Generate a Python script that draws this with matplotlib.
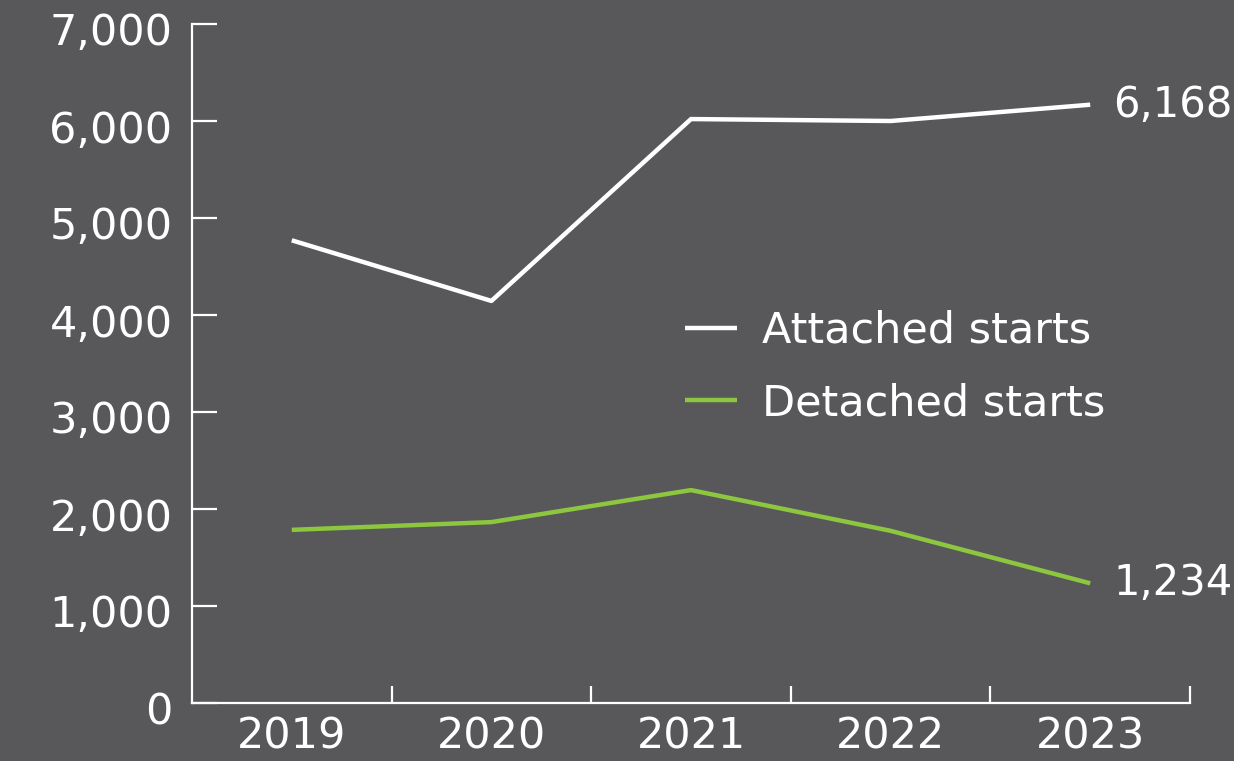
import matplotlib
matplotlib.use('Agg')
import matplotlib.pyplot as plt
from matplotlib.ticker import FuncFormatter, FixedLocator
from matplotlib.transforms import ScaledTranslation

# Housing starts by year
years = ['2019', '2020', '2021', '2022', '2023']
attached = [4770, 4145, 6020, 6000, 6168]
detached = [1785, 1865, 2195, 1775, 1234]

bg = '#58585a'
white = '#ffffff'
green = '#8dc63f'

plt.rcParams['font.family'] = ['DejaVu Sans']
fs = 31

fig = plt.figure(figsize=(12.34, 7.61), dpi=100, facecolor=bg)
ax = fig.add_axes([192/1234, 58/761, 998/1234, 679/761])
ax.set_facecolor(bg)

x = list(range(len(years)))
ax.plot(x, attached, color=white, lw=3.2, label='Attached starts', solid_capstyle='butt')
ax.plot(x, detached, color=green, lw=3.2, label='Detached starts', solid_capstyle='butt')

# value labels at the last point
ax.annotate(f'{attached[-1]:,}', xy=(x[-1], attached[-1]), xytext=(23, 0),
            textcoords='offset pixels', ha='left', va='center', color=white, fontsize=30)
ax.annotate(f'{detached[-1]:,}', xy=(x[-1], detached[-1]), xytext=(23, 0),
            textcoords='offset pixels', ha='left', va='center', color=white, fontsize=30)

ax.set_xlim(-0.5, 4.5)
ax.set_ylim(0, 7000)

for side in ['top', 'right']:
    ax.spines[side].set_visible(False)
for side in ['left', 'bottom']:
    ax.spines[side].set_color(white)
    ax.spines[side].set_linewidth(1.6)

ax.yaxis.set_major_locator(FixedLocator(range(0, 7001, 1000)))
ax.yaxis.set_major_formatter(FuncFormatter(lambda v, p: f'{v:,.0f}'))
ax.tick_params(axis='y', direction='in', length=18, width=1.6, color=white,
               labelcolor=white, labelsize=fs, pad=14)
# nudge the y labels a little below their ticks
shift = ScaledTranslation(0, -5/100, fig.dpi_scale_trans)
for lbl in ax.get_yticklabels():
    lbl.set_transform(lbl.get_transform() + shift)

# year labels centred, tick marks on the category boundaries
ax.set_xticks(x)
ax.set_xticklabels(years)
ax.tick_params(axis='x', which='major', length=0, labelcolor=white, labelsize=fs, pad=9)
ax.set_xticks([0.5, 1.5, 2.5, 3.5, 4.5], minor=True)
ax.tick_params(axis='x', which='minor', direction='in', length=12, width=1.6, color=white)

leg = fig.legend(loc='center left', bbox_to_anchor=(685/1234, 1 - 367/761),
                 frameon=False, fontsize=fs, handlelength=1.2, handletextpad=0.6,
                 labelspacing=0.7, borderpad=0, borderaxespad=0)
for t in leg.get_texts():
    t.set_color(white)

fig.savefig('out.png', dpi=100, facecolor=bg)
